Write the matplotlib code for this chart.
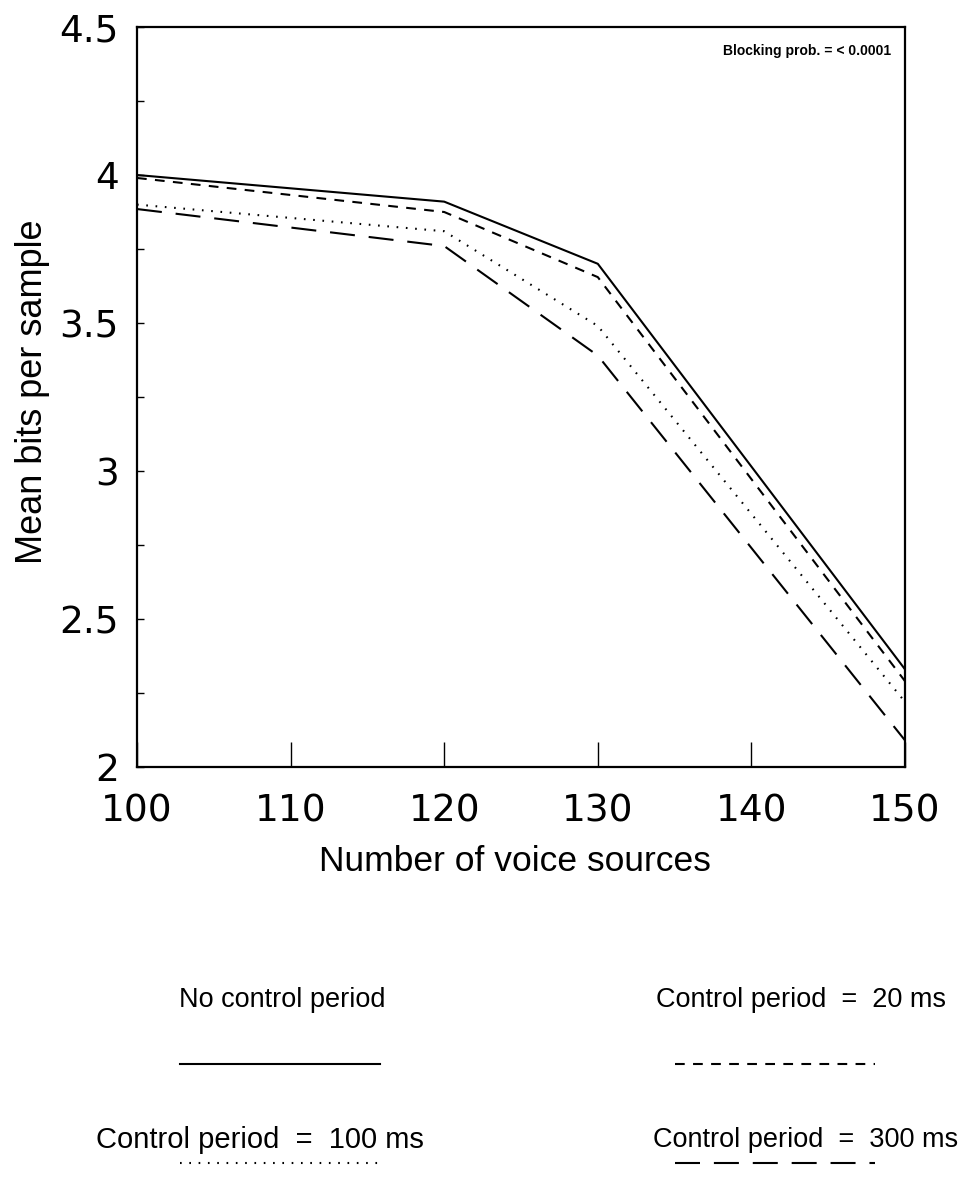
import matplotlib
matplotlib.use("Agg")
import matplotlib.pyplot as plt
from matplotlib.lines import Line2D
from matplotlib.ticker import MultipleLocator

plt.rcParams['font.family'] = ['Liberation Sans', 'DejaVu Sans']
plt.rcParams['lines.scale_dashes'] = False

# ---- data ----
voice_sources = [100, 120, 130, 150]
no_control = [4.00, 3.91, 3.70, 2.33]
ctrl_20ms = [3.99, 3.875, 3.655, 2.29]
ctrl_100ms = [3.90, 3.81, 3.49, 2.22]
ctrl_300ms = [3.885, 3.76, 3.39, 2.09]

series_labels = ["No control period", "Control period  =  20 ms",
                 "Control period  =  100 ms", "Control period  =  300 ms"]
x_ticks = [100, 110, 120, 130, 140, 150]
y_ticks = [2, 2.5, 3, 3.5, 4, 4.5]
y_tick_labels = ["2", "2.5", "3", "3.5", "4", "4.5"]

# ---- styles ----
styles = [
    dict(linestyle='-'),
    dict(linestyle=(0, (7, 6))),
    dict(linestyle=(0, (1.2, 5.5))),
    dict(linestyle=(0, (18, 10))),
]
lw = 1.5

fig = plt.figure(figsize=(9.67, 11.77), dpi=100)
ax = fig.add_axes([137/967, 1-767/1177, (905-137)/967, (767-27)/1177])

for ys, st in zip([no_control, ctrl_20ms, ctrl_100ms, ctrl_300ms], styles):
    ax.plot(voice_sources, ys, color='black', linewidth=lw, **st)

ax.set_xlim(100, 150)
ax.set_ylim(2, 4.5)
ax.set_xticks(x_ticks)
ax.set_yticks(y_ticks)
ax.set_yticklabels(y_tick_labels)
ax.yaxis.set_minor_locator(MultipleLocator(0.25))
ax.tick_params(axis='both', which='both', direction='in', labelsize=27,
               top=False, right=False, width=1.0)
ax.tick_params(axis='x', which='major', length=18, pad=19)
ax.tick_params(axis='y', which='both', length=5, pad=13)
for lab in ax.get_xticklabels() + ax.get_yticklabels():
    lab.set_family('DejaVu Sans')
for sp in ax.spines.values():
    sp.set_linewidth(1.6)

ax.set_xlabel("Number of voice sources", fontsize=25.5)
ax.xaxis.set_label_coords(0.492, -0.105)
ax.set_ylabel("Mean bits per sample", fontsize=26)
ax.yaxis.set_label_coords(-0.113, 0.507)

ax.text(0.982, 0.962, "Blocking prob. = < 0.0001", transform=ax.transAxes,
        ha='right', va='baseline', fontsize=10, fontweight='bold',
        family=['Liberation Sans Narrow', 'Liberation Sans', 'DejaVu Sans'])

# ---- legend (manual layout) ----
W, H = 967, 1177
legend_text_pos = [(282, 1000), (801, 1000), (260, 1140), (806, 1140)]
legend_line_pos = [(180, 380, 1064), (675, 875, 1064), (180, 380, 1163), (675, 875, 1163)]
legend_sizes = [19.5, 19.5, 21, 19.5]
for lab, (tx, ty), (x0, x1, ly), st, fs in zip(series_labels, legend_text_pos,
                                                legend_line_pos, styles, legend_sizes):
    fig.text(tx / W, 1 - ty / H, lab, ha='center', va='center', fontsize=fs)
    fig.add_artist(Line2D([x0 / W, x1 / W], [1 - ly / H, 1 - ly / H],
                          transform=fig.transFigure, color='black',
                          linewidth=lw, **st))

fig.savefig("out.png", dpi=100)
